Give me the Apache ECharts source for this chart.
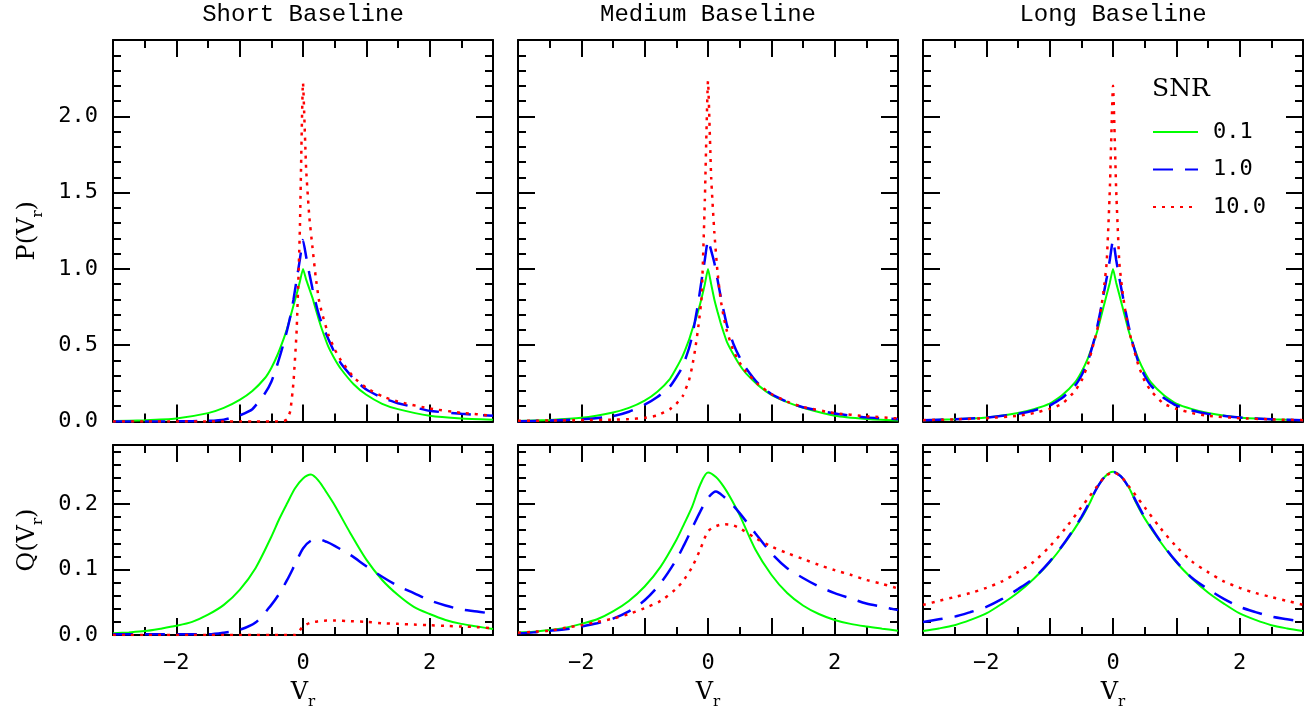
<!DOCTYPE html>
<html>
<head>
<meta charset="utf-8">
<title>SNR baselines</title>
<script src="https://cdn.jsdelivr.net/npm/echarts@6/dist/echarts.min.js"></script>
<style>
  html, body { margin: 0; padding: 0; background: #fff; }
  #chart { width: 1307px; height: 711px; }
</style>
</head>
<body>
<div id="chart"></div>
<script>
var xTop = [-3, -2.5, -2, -1.5, -1.25, -1, -0.8, -0.6, -0.5, -0.4, -0.3, -0.25, -0.2, -0.15, -0.1, -0.05,
            0, 0.05, 0.1, 0.15, 0.2, 0.25, 0.3, 0.4, 0.5, 0.6, 0.8, 1, 1.25, 1.5, 2, 2.5, 3];
var xBot = [-3, -2.75, -2.5, -2.25, -2, -1.75, -1.5, -1.25, -1, -0.75, -0.5, -0.375, -0.25, -0.125,
            0, 0.125, 0.25, 0.375, 0.5, 0.75, 1, 1.25, 1.5, 1.75, 2, 2.25, 2.5, 2.75, 3];

// P(V_r), short baseline
var shortP01 = [0.003, 0.008, 0.02, 0.055, 0.089, 0.142, 0.2, 0.285, 0.351, 0.439, 0.548, 0.61, 0.685, 0.76, 0.835, 0.915,
                1.0, 0.93, 0.87, 0.81, 0.738, 0.667, 0.603, 0.49, 0.41, 0.344, 0.244, 0.175, 0.116, 0.081, 0.038, 0.02, 0.012];
var shortP1  = [0, 0, 0.001, 0.004, 0.012, 0.04, 0.08, 0.185, 0.26, 0.38, 0.52, 0.6, 0.69, 0.8, 0.93, 1.06,
                1.19, 1.08, 0.97, 0.87, 0.78, 0.7, 0.64, 0.54, 0.45, 0.38, 0.28, 0.21, 0.155, 0.12, 0.07, 0.05, 0.038];
var shortP10 = [0, 0, 0, 0, 0, 0, 0, 0, 0, 0.001, 0.003, 0.015, 0.07, 0.26, 0.6, 1.25,
                2.22, 1.65, 1.34, 1.14, 0.95, 0.8, 0.71, 0.57, 0.473, 0.4, 0.29, 0.22, 0.165, 0.13, 0.085, 0.057, 0.038];
// P(V_r), medium baseline
var medP01 = [0.004, 0.01, 0.024, 0.059, 0.089, 0.137, 0.195, 0.28, 0.35, 0.43, 0.535, 0.6, 0.66, 0.73, 0.81, 0.9,
              1.0, 0.9, 0.8, 0.72, 0.645, 0.58, 0.52, 0.44, 0.37, 0.315, 0.235, 0.175, 0.127, 0.09, 0.038, 0.017, 0.006];
var medP1  = [0.002, 0.006, 0.014, 0.035, 0.064, 0.11, 0.16, 0.23, 0.29, 0.36, 0.48, 0.56, 0.67, 0.79, 0.93, 1.06,
              1.19, 1.12, 1.04, 0.93, 0.82, 0.72, 0.63, 0.51, 0.42, 0.35, 0.245, 0.18, 0.128, 0.093, 0.052, 0.027, 0.015];
var medP10 = [0.005, 0.006, 0.009, 0.012, 0.016, 0.024, 0.04, 0.081, 0.116, 0.166, 0.27, 0.36, 0.48, 0.63, 0.82, 1.45,
              2.23, 1.6, 1.24, 0.98, 0.8, 0.68, 0.59, 0.465, 0.385, 0.325, 0.24, 0.18, 0.13, 0.095, 0.055, 0.035, 0.02];
// P(V_r), long baseline
var longP01 = [0.008, 0.014, 0.026, 0.056, 0.081, 0.117, 0.173, 0.256, 0.323, 0.41, 0.525, 0.59, 0.67, 0.75, 0.83, 0.91,
               1.0, 0.91, 0.83, 0.75, 0.67, 0.59, 0.525, 0.41, 0.323, 0.256, 0.173, 0.117, 0.081, 0.056, 0.026, 0.014, 0.008];
var longP1  = [0.009, 0.015, 0.026, 0.05, 0.072, 0.105, 0.155, 0.235, 0.3, 0.39, 0.53, 0.62, 0.72, 0.83, 0.94, 1.06,
               1.19, 1.06, 0.94, 0.83, 0.72, 0.62, 0.53, 0.39, 0.3, 0.235, 0.155, 0.105, 0.072, 0.05, 0.026, 0.015, 0.009];
var longP10 = [0.009, 0.014, 0.022, 0.037, 0.055, 0.083, 0.117, 0.2, 0.265, 0.37, 0.52, 0.6, 0.71, 0.85, 1.04, 1.52,
               2.2, 1.52, 1.04, 0.85, 0.71, 0.6, 0.52, 0.37, 0.265, 0.2, 0.117, 0.083, 0.055, 0.037, 0.022, 0.014, 0.009];

// Q(V_r), short baseline
var shortQ01 = [0.0025, 0.004, 0.006, 0.0097, 0.014, 0.02, 0.031, 0.046, 0.069, 0.102, 0.15, 0.177, 0.201, 0.224,
                0.239, 0.245, 0.235, 0.217, 0.198, 0.155, 0.115, 0.084, 0.061, 0.043, 0.032, 0.023, 0.017, 0.013, 0.009];
var shortQ1  = [0.001, 0.001, 0.001, 0.001, 0.001, 0.001, 0.001, 0.0035, 0.008, 0.019, 0.046, 0.063, 0.084, 0.108,
                0.132, 0.144, 0.146, 0.142, 0.136, 0.122, 0.105, 0.089, 0.075, 0.064, 0.053, 0.045, 0.039, 0.036, 0.032];
var shortQ10 = [0, 0, 0, 0, 0, 0, 0, 0, 0, 0, 0, 0, 0, 0,
                0.013, 0.019, 0.021, 0.022, 0.022, 0.021, 0.02, 0.018, 0.017, 0.016, 0.015, 0.014, 0.013, 0.012, 0.01];
// Q(V_r), medium baseline
var medQ01 = [0.004, 0.005, 0.0076, 0.011, 0.017, 0.024, 0.036, 0.052, 0.074, 0.104, 0.145, 0.17, 0.196, 0.229,
              0.248, 0.241, 0.226, 0.206, 0.183, 0.13, 0.092, 0.064, 0.045, 0.032, 0.023, 0.017, 0.013, 0.0097, 0.0066];
var medQ1  = [0.0025, 0.004, 0.0066, 0.0087, 0.013, 0.018, 0.025, 0.036, 0.053, 0.079, 0.115, 0.138, 0.163, 0.188,
              0.209, 0.219, 0.211, 0.2, 0.186, 0.155, 0.125, 0.102, 0.087, 0.074, 0.064, 0.056, 0.048, 0.043, 0.038];
var medQ10 = [0.0036, 0.005, 0.0066, 0.011, 0.015, 0.02, 0.025, 0.032, 0.041, 0.052, 0.071, 0.085, 0.104, 0.13,
              0.158, 0.166, 0.169, 0.168, 0.163, 0.148, 0.135, 0.125, 0.116, 0.107, 0.099, 0.092, 0.084, 0.078, 0.071];
// Q(V_r), long baseline
var longQ01 = [0.006, 0.01, 0.015, 0.023, 0.033, 0.048, 0.065, 0.086, 0.111, 0.142, 0.178, 0.2, 0.225, 0.242,
               0.249, 0.242, 0.225, 0.2, 0.178, 0.142, 0.111, 0.086, 0.065, 0.048, 0.033, 0.023, 0.015, 0.01, 0.006];
var longQ1  = [0.02, 0.024, 0.028, 0.035, 0.043, 0.055, 0.07, 0.087, 0.112, 0.143, 0.18, 0.202, 0.225, 0.242,
               0.249, 0.242, 0.225, 0.202, 0.18, 0.143, 0.112, 0.087, 0.07, 0.055, 0.043, 0.035, 0.028, 0.024, 0.02];
var longQ10 = [0.046, 0.052, 0.058, 0.064, 0.072, 0.082, 0.096, 0.112, 0.135, 0.163, 0.195, 0.211, 0.227, 0.242,
               0.248, 0.242, 0.227, 0.211, 0.195, 0.163, 0.135, 0.112, 0.096, 0.082, 0.072, 0.064, 0.058, 0.052, 0.046];

var titles = ['Short Baseline', 'Medium Baseline', 'Long Baseline'];
var snrNames = ['0.1', '1.0', '10.0'];

var panels = [
  { col: 0, row: 0, x: xTop, ys: [shortP01, shortP1, shortP10] },
  { col: 1, row: 0, x: xTop, ys: [medP01, medP1, medP10] },
  { col: 2, row: 0, x: xTop, ys: [longP01, longP1, longP10] },
  { col: 0, row: 1, x: xBot, ys: [shortQ01, shortQ1, shortQ10] },
  { col: 1, row: 1, x: xBot, ys: [medQ01, medQ1, medQ10] },
  { col: 2, row: 1, x: xBot, ys: [longQ01, longQ1, longQ10] }
];

var panelLeft = [113, 518, 923];
var panelWidth = 380;
var rows = [
  { top: 40, height: 381.5, max: 2.5, major: 0.5, minor: 0.1, label: 'P', smooth: 0.15 },
  { top: 445, height: 190, max: 0.29, major: 0.1, minor: 0.02, label: 'Q', smooth: 0.3 }
];

var colors = ['#00ff00', '#0000ff', '#ff0000'];
var lineStyles = [
  { color: colors[0], width: 2, type: 'solid' },
  { color: colors[1], width: 2.5, type: [20, 12] },
  { color: colors[2], width: 2.5, type: [3, 6] }
];

var numFont = 'DejaVu Sans Mono';
var nameFont = 'DejaVu Serif';
var black = '#000';

function xLabel(v) {
  if (v === -2) return '\u22122';
  if (v === 0) return '0';
  if (v === 2) return '2';
  return '';
}

var nameRich = {
  t: { fontFamily: nameFont, fontSize: 24, color: black, lineHeight: 26 },
  sub: { fontFamily: nameFont, fontSize: 15, color: black, lineHeight: 15, padding: [20, 0, 0, 0] }
};

var grids = [], xAxes = [], yAxes = [], series = [];

panels.forEach(function (p, g) {
  var row = rows[p.row];
  grids.push({ left: panelLeft[p.col], top: row.top, width: panelWidth, height: row.height });

  ['bottom', 'top'].forEach(function (pos) {
    var lab = pos === 'bottom' && p.row === 1;
    xAxes.push({
      type: 'value', gridIndex: g, position: pos, min: -3, max: 3, interval: 1,
      axisLine: { show: true, onZero: false, lineStyle: { color: black, width: 2 } },
      axisTick: { show: true, inside: true, length: 17, lineStyle: { color: black, width: 2 } },
      minorTick: { show: true, splitNumber: 2, length: 8, lineStyle: { color: black, width: 2 } },
      splitLine: { show: false },
      axisLabel: { show: lab, margin: 17, formatter: xLabel, fontFamily: numFont, fontSize: 22, color: black },
      name: lab ? '{t|V}{sub|r}' : '',
      nameLocation: 'middle', nameGap: 44,
      nameTextStyle: { rich: nameRich }
    });
  });

  ['left', 'right'].forEach(function (pos) {
    var lab = pos === 'left' && p.col === 0;
    // major ticks (with labels)
    yAxes.push({
      type: 'value', gridIndex: g, position: pos, min: 0, max: row.max, interval: row.major,
      axisLine: { show: true, onZero: false, lineStyle: { color: black, width: 2 } },
      axisTick: { show: true, inside: true, length: 17, lineStyle: { color: black, width: 2 } },
      splitLine: { show: false },
      axisLabel: {
        show: lab, margin: 15, fontFamily: numFont, fontSize: 22, color: black,
        formatter: function (v) { return v > row.max - 1e-6 ? '' : v.toFixed(1); }
      },
      name: lab ? '{t|' + row.label + '(V}{sub|r}{t|)}' : '',
      nameLocation: 'middle', nameRotate: 90, nameGap: 72,
      nameTextStyle: { rich: nameRich }
    });
    // minor ticks
    yAxes.push({
      type: 'value', gridIndex: g, position: pos, min: 0, max: row.max, interval: row.minor,
      axisLine: { show: false, onZero: false },
      axisTick: { show: true, inside: true, length: 8, lineStyle: { color: black, width: 2 } },
      splitLine: { show: false },
      axisLabel: { show: false }
    });
  });

  p.ys.forEach(function (ys, k) {
    series.push({
      type: 'line',
      name: snrNames[k],
      xAxisIndex: 2 * g,
      yAxisIndex: 4 * g,
      data: p.x.map(function (x, i) { return [x, ys[i]]; }),
      symbol: 'none',
      smooth: row.smooth,
      color: colors[k],
      itemStyle: { color: colors[k] },
      lineStyle: lineStyles[k],
      z: 2 + k
    });
  });
});

var graphics = titles.map(function (t, c) {
  return {
    type: 'text', x: panelLeft[c] + panelWidth / 2, y: 15,
    style: { text: t, fontFamily: 'Liberation Mono', fontSize: 24, fill: black,
             textAlign: 'center', textVerticalAlign: 'middle' }
  };
});
graphics.push({
  type: 'text', x: 1152, y: 89,
  style: { text: 'SNR', fontFamily: nameFont, fontSize: 25, fill: black, textAlign: 'left', textVerticalAlign: 'middle' }
});

var chart = echarts.init(document.getElementById('chart'));
chart.setOption({
  animation: false,
  backgroundColor: '#fff',
  grid: grids,
  xAxis: xAxes,
  yAxis: yAxes,
  legend: {
    data: snrNames,
    orient: 'vertical',
    left: 1152, top: 121, padding: 0,
    itemWidth: 45, itemHeight: 22, itemGap: 15.5,
    selectedMode: false,
    itemStyle: { opacity: 0 },
    textStyle: { fontFamily: numFont, fontSize: 22, color: black, lineHeight: 22, padding: [0, 0, 0, 10] }
  },
  graphic: graphics,
  series: series
});
</script>
</body>
</html>
